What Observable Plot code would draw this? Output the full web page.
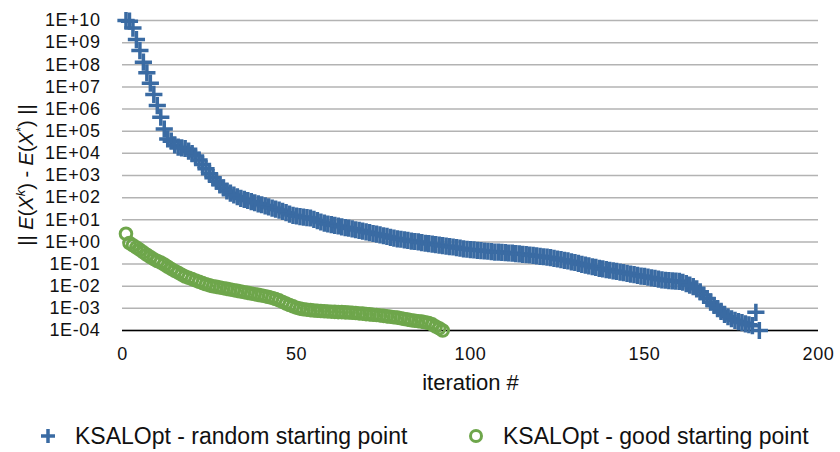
<!DOCTYPE html>
<html>
<head>
<meta charset="utf-8">
<script src="https://cdn.jsdelivr.net/npm/d3@7"></script>
<script src="https://cdn.jsdelivr.net/npm/@observablehq/plot@0.6"></script>
<style>
  body { margin: 0; background: #fff; font-family: "Liberation Sans", Arial, Helvetica, sans-serif; color: #111; }
  #chart { position: relative; width: 840px; height: 452px; overflow: hidden; }
  #chart svg { display: block; }
  #chart svg [aria-label="y-axis tick label"] text,
  #chart svg [aria-label="x-axis tick label"] text { letter-spacing: 0.6px; }
  .legend-item { position: absolute; top: 421px; height: 30px; display: flex; align-items: center; font-size: 23px; white-space: nowrap; }
</style>
</head>
<body>
<div id="chart"></div>
<script>
// Convergence of ||E(X^k) - E(X*)|| per iteration, stored as log10 of the error.
// Run started from a random point (iterations 1..183).
const randomStartLog10 = [
  10.00, 9.97, 9.66, 9.14, 8.64, 8.12, 7.64, 7.17, 6.66, 6.16,
  5.63, 5.10, 4.65, 4.55, 4.38, 4.28, 4.25, 4.22, 4.10, 3.99,
  3.88, 3.70, 3.50, 3.30, 3.08, 2.90, 2.74, 2.58, 2.44, 2.30,
  2.20, 2.12, 2.04, 1.97, 1.92, 1.87, 1.82, 1.77, 1.72, 1.68,
  1.63, 1.58, 1.53, 1.48, 1.44, 1.38, 1.32, 1.26, 1.20, 1.17,
  1.14, 1.12, 1.10, 1.08, 1.02, 0.96, 0.90, 0.85, 0.81, 0.78,
  0.75, 0.72, 0.68, 0.65, 0.62, 0.59, 0.55, 0.52, 0.49, 0.45,
  0.42, 0.38, 0.35, 0.32, 0.28, 0.25, 0.21, 0.17, 0.14, 0.12,
  0.09, 0.07, 0.04, 0.02, 0.00, -0.03, -0.06, -0.08, -0.10, -0.12,
  -0.14, -0.17, -0.19, -0.21, -0.23, -0.26, -0.28, -0.31, -0.33, -0.35,
  -0.36, -0.38, -0.39, -0.41, -0.42, -0.44, -0.46, -0.46, -0.47, -0.48,
  -0.50, -0.51, -0.53, -0.54, -0.56, -0.57, -0.59, -0.61, -0.63, -0.65,
  -0.67, -0.69, -0.71, -0.74, -0.77, -0.80, -0.83, -0.86, -0.90, -0.93,
  -0.97, -1.01, -1.05, -1.08, -1.12, -1.15, -1.19, -1.22, -1.25, -1.28,
  -1.31, -1.33, -1.36, -1.39, -1.42, -1.45, -1.48, -1.51, -1.54, -1.56,
  -1.59, -1.62, -1.65, -1.68, -1.71, -1.73, -1.75, -1.76, -1.77, -1.78,
  -1.82, -1.88, -1.95, -2.02, -2.12, -2.25, -2.40, -2.56, -2.72, -2.87,
  -3.01, -3.14, -3.27, -3.38, -3.47, -3.54, -3.60, -3.64, -3.70, -3.74,
  -3.78, -3.18, -4.00
];

// Run started from a good point (iterations 1..92).
const goodStartLog10 = [
  0.37, -0.05, -0.15, -0.25, -0.36, -0.47, -0.58, -0.68, -0.78, -0.86,
  -0.93, -1.02, -1.12, -1.22, -1.31, -1.39, -1.48, -1.56, -1.62, -1.68,
  -1.74, -1.80, -1.86, -1.91, -1.96, -2.00, -2.03, -2.06, -2.09, -2.12,
  -2.15, -2.18, -2.21, -2.24, -2.27, -2.30, -2.33, -2.36, -2.39, -2.42,
  -2.45, -2.49, -2.53, -2.58, -2.64, -2.71, -2.78, -2.85, -2.91, -2.97,
  -3.01, -3.04, -3.06, -3.08, -3.10, -3.11, -3.12, -3.13, -3.14, -3.15,
  -3.16, -3.17, -3.17, -3.18, -3.19, -3.20, -3.21, -3.23, -3.24, -3.26,
  -3.27, -3.29, -3.30, -3.32, -3.34, -3.36, -3.38, -3.40, -3.42, -3.45,
  -3.48, -3.51, -3.54, -3.56, -3.58, -3.60, -3.63, -3.66, -3.72, -3.82,
  -3.90, -4.00
];

const seriesNames = ["KSALOpt - random starting point", "KSALOpt - good starting point"];
const seriesColors = ["#3a6ba3", "#6ea64b"];

const yTickExponents = [-4, -3, -2, -1, 0, 1, 2, 3, 4, 5, 6, 7, 8, 9, 10];
const yTickLabels = ["1E-04", "1E-03", "1E-02", "1E-01", "1E+00", "1E+01", "1E+02", "1E+03",
                     "1E+04", "1E+05", "1E+06", "1E+07", "1E+08", "1E+09", "1E+10"];
const xTicks = [0, 50, 100, 150, 200];
const xLabel = "iteration #";

const yTicks = yTickExponents.map(e => 10 ** e);
const yFormat = d => yTickLabels[yTickExponents.indexOf(Math.round(Math.log10(d)))];

const toRows = (logs) => logs.map((v, i) => ({iteration: i + 1, error: 10 ** v}));
const randomRows = toRows(randomStartLog10);
const goodRows = toRows(goodStartLog10);

const plot = Plot.plot({
  width: 840,
  height: 400,
  marginLeft: 122,
  marginRight: 22,
  marginTop: 20,
  marginBottom: 70,
  style: {fontFamily: '"Liberation Sans", Arial, Helvetica, sans-serif', fontSize: "18px", color: "#111", background: "#fff", overflow: "visible"},
  x: {domain: [0, 200], label: null},
  y: {type: "log", domain: [1e-4, 1e10], label: null},
  marks: [
    Plot.gridY({ticks: yTicks, stroke: "#b3b3b3", strokeOpacity: 1, strokeWidth: 1.5}),
    Plot.ruleY([1e-4], {stroke: "#000", strokeWidth: 1.5}),
    Plot.axisY({ticks: yTicks, tickFormat: yFormat, tickSize: 0, tickPadding: 22, label: null}),
    Plot.axisX({ticks: xTicks, tickSize: 0, tickPadding: 17, label: null}),
    Plot.dot(randomRows, {x: "iteration", y: "error", symbol: "plus", r: 5.6, stroke: seriesColors[0], strokeWidth: 3.5}),
    Plot.dot(goodRows, {x: "iteration", y: "error", symbol: "circle", r: 5.8, fill: "none", stroke: seriesColors[1], strokeWidth: 3}),
    Plot.text([xLabel], {frameAnchor: "bottom", dy: 59, fontSize: 22, fill: "#111"})
  ]
});

// Rotated y-axis title with italic symbols and superscripts
const title = d3.select(plot).append("text")
  .attr("transform", "translate(33,175) rotate(-90)")
  .attr("text-anchor", "middle")
  .attr("fill", "#111")
  .style("font-size", "20px");
title.append("tspan").text("|| ");
title.append("tspan").attr("font-style", "italic").text("E");
title.append("tspan").text("(");
title.append("tspan").attr("font-style", "italic").text("X");
title.append("tspan").attr("font-style", "italic").attr("font-size", "13px").attr("dy", -8).text("k");
title.append("tspan").attr("dy", 8).text(") - ");
title.append("tspan").attr("font-style", "italic").text("E");
title.append("tspan").text("(");
title.append("tspan").attr("font-style", "italic").text("X");
title.append("tspan").attr("font-size", "13px").attr("dy", -8).text("*");
title.append("tspan").attr("dy", 8).text(") ||");

const chart = document.getElementById("chart");
chart.appendChild(plot);

// Legend below the plot
const legendItems = [
  {name: seriesNames[0], color: seriesColors[0], kind: "plus", left: 38},
  {name: seriesNames[1], color: seriesColors[1], kind: "circle", left: 466}
];
for (const item of legendItems) {
  const div = document.createElement("div");
  div.className = "legend-item";
  div.style.left = item.left + "px";
  const sym = d3.create("svg").attr("width", 20).attr("height", 30).style("margin-right", "17px");
  if (item.kind === "plus") {
    sym.append("path").attr("d", "M3,15H17M10,8V22").attr("stroke", item.color).attr("stroke-width", 3.5).attr("fill", "none");
  } else {
    sym.append("circle").attr("cx", 10).attr("cy", 15).attr("r", 5.5).attr("stroke", item.color).attr("stroke-width", 3).attr("fill", "none");
  }
  div.appendChild(sym.node());
  const span = document.createElement("span");
  span.textContent = item.name;
  div.appendChild(span);
  chart.appendChild(div);
}
</script>
</body>
</html>
